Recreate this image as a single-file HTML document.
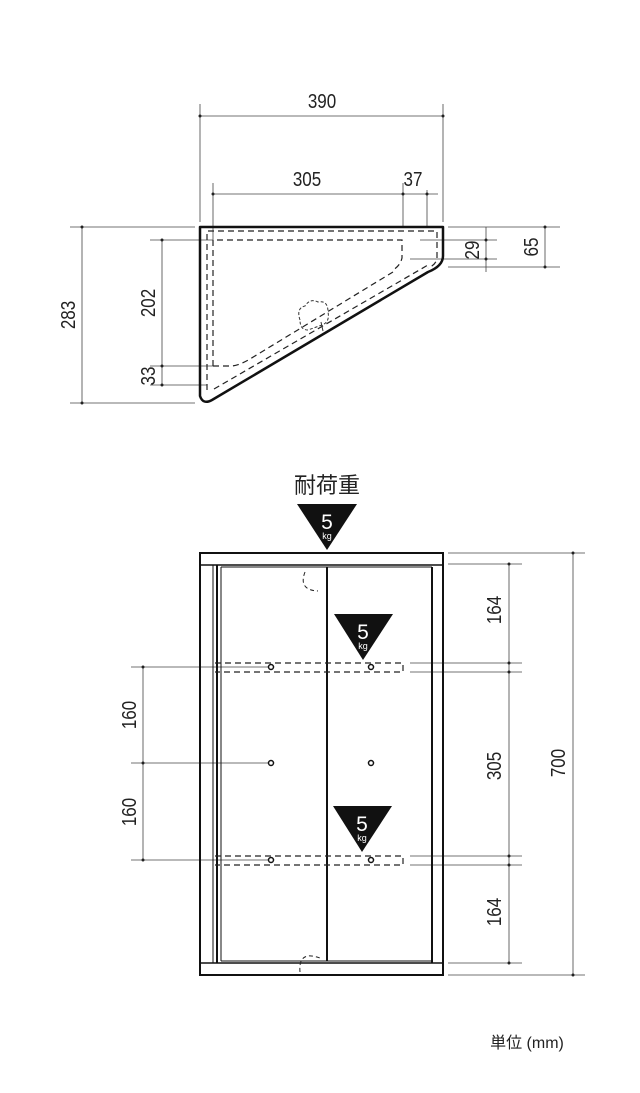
<!DOCTYPE html>
<html><head><meta charset="utf-8"><style>
html,body{margin:0;padding:0;background:#fff;}
svg{display:block;}
text{font-family:"Liberation Sans","Noto Sans CJK JP",sans-serif;fill:#222;}
</style></head><body>
<svg width="640" height="1093" viewBox="0 0 640 1093" xmlns="http://www.w3.org/2000/svg">
<g stroke="#444" stroke-width="0.8" fill="none">
<line x1="200" y1="104" x2="200" y2="222"/><line x1="443" y1="104" x2="443" y2="222"/>
<line x1="200" y1="116" x2="443" y2="116"/>
<line x1="213" y1="183" x2="213" y2="240"/><line x1="403" y1="183" x2="403" y2="226"/><line x1="427" y1="190" x2="427" y2="226"/>
<line x1="213" y1="194" x2="438" y2="194"/>
<line x1="70" y1="227" x2="195" y2="227"/><line x1="70" y1="403" x2="195" y2="403"/>
<line x1="82" y1="227" x2="82" y2="403"/>
<line x1="150" y1="240" x2="213" y2="240"/><line x1="150" y1="366" x2="213" y2="366"/><line x1="150" y1="385" x2="207" y2="385"/>
<line x1="162" y1="240" x2="162" y2="385"/>
<line x1="448" y1="227" x2="560" y2="227"/><line x1="420" y1="240" x2="497" y2="240"/><line x1="410" y1="259" x2="497" y2="259"/><line x1="448" y1="267" x2="560" y2="267"/>
<line x1="486" y1="227" x2="486" y2="272"/><line x1="545" y1="227" x2="545" y2="267"/>
</g>
<g fill="#222">
<circle cx="200" cy="116" r="1.5"/><circle cx="443" cy="116" r="1.5"/>
<circle cx="213" cy="194" r="1.5"/><circle cx="403" cy="194" r="1.5"/><circle cx="427" cy="194" r="1.5"/>
<circle cx="82" cy="227" r="1.5"/><circle cx="82" cy="403" r="1.5"/>
<circle cx="162" cy="240" r="1.5"/><circle cx="162" cy="366" r="1.5"/><circle cx="162" cy="385" r="1.5"/>
<circle cx="486" cy="240" r="1.5"/><circle cx="486" cy="259" r="1.5"/>
<circle cx="545" cy="227" r="1.5"/><circle cx="545" cy="267" r="1.5"/>
</g>
<path d="M200 227 L443 227 L443 256 Q443 266 428 272 L212 400 Q203 405 200 396 Z" fill="none" stroke="#111" stroke-width="2.5" stroke-linejoin="round"/>
<g stroke="#222" stroke-width="1.2" fill="none" stroke-dasharray="6,4">
<path d="M207 390 L207 231 L437 231 L437 258 Q436 265 428 268"/>
<path d="M213 366 L213 240 L402 240 L402 258 Q400 266 393 270"/>
<path d="M213 366 L232 366 Q240 365 250 359 L393 272"/>
<path d="M214 389 L428 265"/>
</g>
<path d="M300 320 Q296 308 305 306 Q310 298 318 302 Q328 300 328 312 Q330 322 322 325 L308 330 Q300 330 300 320" fill="none" stroke="#333" stroke-width="1" stroke-dasharray="3,2"/>
<line x1="321" y1="322" x2="323" y2="331" stroke="#333"/>
<g font-size="20" text-anchor="middle">
<text transform="translate(322,108) scale(0.85,1)">390</text>
<text transform="translate(307,186) scale(0.85,1)">305</text>
<text transform="translate(413,186) scale(0.85,1)">37</text>
<text transform="translate(75,315) rotate(-90) scale(0.85,1)">283</text>
<text transform="translate(155,303) rotate(-90) scale(0.85,1)">202</text>
<text transform="translate(155,376) rotate(-90) scale(0.85,1)">33</text>
<text transform="translate(479,250) rotate(-90) scale(0.85,1)">29</text>
<text transform="translate(538,247) rotate(-90) scale(0.85,1)">65</text>
</g>

<text x="327" y="493" font-size="22" text-anchor="middle">耐荷重</text>
<g stroke="#444" stroke-width="0.8" fill="none">
<line x1="448" y1="553" x2="585" y2="553"/><line x1="448" y1="975" x2="585" y2="975"/>
<line x1="448" y1="564" x2="522" y2="564"/><line x1="448" y1="963" x2="522" y2="963"/>
<line x1="410" y1="663" x2="522" y2="663"/><line x1="410" y1="672" x2="522" y2="672"/>
<line x1="410" y1="856" x2="522" y2="856"/><line x1="410" y1="865" x2="522" y2="865"/>
<line x1="509" y1="564" x2="509" y2="963"/><line x1="573" y1="553" x2="573" y2="975"/>
<line x1="131" y1="667" x2="268" y2="667"/><line x1="131" y1="763" x2="268" y2="763"/><line x1="131" y1="860" x2="268" y2="860"/>
<line x1="143" y1="667" x2="143" y2="860"/>
</g>
<g fill="#222">
<circle cx="509" cy="564" r="1.5"/><circle cx="509" cy="663" r="1.5"/><circle cx="509" cy="672" r="1.5"/><circle cx="509" cy="856" r="1.5"/><circle cx="509" cy="865" r="1.5"/><circle cx="509" cy="963" r="1.5"/>
<circle cx="573" cy="553" r="1.5"/><circle cx="573" cy="975" r="1.5"/>
<circle cx="143" cy="667" r="1.5"/><circle cx="143" cy="763" r="1.5"/><circle cx="143" cy="860" r="1.5"/>
</g>
<g stroke="#111" fill="none">
<rect x="200" y="553" width="243" height="422" stroke-width="2"/>
<line x1="200" y1="565" x2="443" y2="565" stroke-width="1.5"/>
<line x1="200" y1="963" x2="443" y2="963" stroke-width="1.5"/>
<line x1="213" y1="565" x2="213" y2="963" stroke-width="1"/>
<line x1="217" y1="565" x2="217" y2="963" stroke-width="2"/>
<line x1="221" y1="567" x2="221" y2="961" stroke-width="1"/>
<line x1="221" y1="567" x2="432" y2="567" stroke-width="1"/>
<line x1="221" y1="961" x2="432" y2="961" stroke-width="1"/>
<line x1="432" y1="567" x2="432" y2="963" stroke-width="2"/>
<line x1="327" y1="567" x2="327" y2="961" stroke-width="2"/>
</g>
<g stroke="#222" stroke-width="1.2" fill="none" stroke-dasharray="6,4">
<path d="M215 663 L403 663 L403 672 L215 672"/>
<path d="M215 856 L403 856 L403 865 L215 865"/>
<path d="M305 572 Q298 590 318 591" stroke-dasharray="4,3" stroke-width="1"/>
<path d="M300 972 Q298 950 320 958" stroke-dasharray="4,3" stroke-width="1"/>
</g>
<g fill="none" stroke="#111" stroke-width="1.5">
<circle cx="271" cy="667" r="2.5"/><circle cx="371" cy="667" r="2.5"/>
<circle cx="271" cy="763" r="2.5"/><circle cx="371" cy="763" r="2.5"/>
<circle cx="271" cy="860" r="2.5"/><circle cx="371" cy="860" r="2.5"/>
</g>
<g>
<polygon points="297,504 357,504 327,550" fill="#111"/>
<text x="327" y="529" font-size="21" text-anchor="middle" style="fill:#fff">5</text>
<text x="327" y="539" font-size="9" text-anchor="middle" style="fill:#fff">kg</text>
<polygon points="334,614 393,614 363,660" fill="#111"/>
<text x="363" y="639" font-size="21" text-anchor="middle" style="fill:#fff">5</text>
<text x="363" y="649" font-size="9" text-anchor="middle" style="fill:#fff">kg</text>
<polygon points="333,806 392,806 362,852" fill="#111"/>
<text x="362" y="831" font-size="21" text-anchor="middle" style="fill:#fff">5</text>
<text x="362" y="841" font-size="9" text-anchor="middle" style="fill:#fff">kg</text>
</g>
<g font-size="20" text-anchor="middle">
<text transform="translate(501,610) rotate(-90) scale(0.85,1)">164</text>
<text transform="translate(501,766) rotate(-90) scale(0.85,1)">305</text>
<text transform="translate(501,912) rotate(-90) scale(0.85,1)">164</text>
<text transform="translate(565,763) rotate(-90) scale(0.85,1)">700</text>
<text transform="translate(136,715) rotate(-90) scale(0.85,1)">160</text>
<text transform="translate(136,812) rotate(-90) scale(0.85,1)">160</text>
</g>
<text x="527" y="1048" font-size="16" text-anchor="middle">単位 (mm)</text>
</svg>
</body></html>
